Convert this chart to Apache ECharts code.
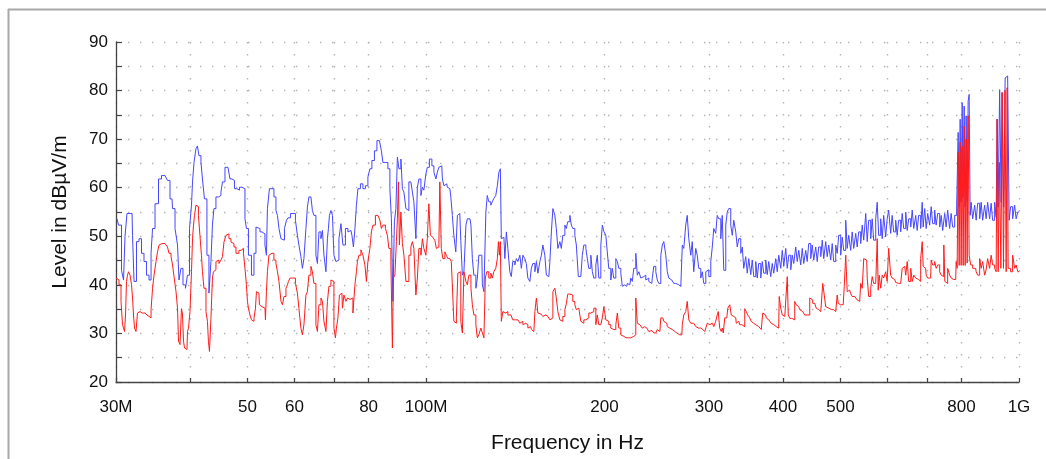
<!DOCTYPE html>
<html><head><meta charset="utf-8">
<script src="https://cdn.jsdelivr.net/npm/echarts@6/dist/echarts.min.js"></script>
<style>html,body{margin:0;padding:0;background:#fff}#c{width:1046px;height:459px}</style>
</head><body><div id="c"></div>
<script>
// x ticks (MHz) and their labels
const tickFreqs = [30,40,50,60,70,80,100,200,300,400,500,600,700,800,1000];
const labelFreqs = [30,50,60,80,100,200,300,400,500,800,1000];
const labelTexts = ['30M','50','60','80','100M','200','300','400','500','800','1G'];
const yMin = 20, yMax = 90, yStep = 5;

// [frequency in MHz, level in dBuV/m]
const blueTrace = [
[30.12,53.6],[30.47,52.3],[30.83,43],[30.95,41],[31.19,50],[31.43,54.7],[31.93,54.7],[32.05,50.2],[32.30,40.7],[32.67,48.9],
[32.93,49.5],[33.32,46.5],[33.57,44.8],[33.97,42],[34.24,41],[34.51,46.5],[34.64,51.6],[35.18,56.7],[35.59,61.8],[36.01,62.5],
[36.57,62.5],[36.71,61.5],[37.29,57.7],[37.44,55.7],[38.02,51.6],[38.17,48.2],[38.46,41],[38.76,43.4],[39.07,40],[39.52,39.3],
[39.68,42],[40.14,51.6],[40.30,56.4],[40.46,61.2],[40.77,65.2],[41.08,68],[41.24,68.6],[41.56,66.6],[41.89,65.2],[42.05,61.8],
[42.54,57.7],[42.87,46.1],[43.21,38.3],[43.54,44.8],[43.71,52.3],[44.05,55.7],[44.40,58.1],[44.92,58.4],[45.27,59.1],[45.45,61.2],
[46.16,64.2],[46.52,63.8],[46.88,61.8],[47.25,61.5],[47.80,59.8],[48.17,59.5],[48.74,60.1],[49.12,60.5],[49.31,59.8],[49.69,53.6],
[49.88,51.6],[50.47,46.1],[51.06,42],[51.46,46.5],[51.86,51.9],[52.06,51.6],[52.88,50.9],[53.29,50.5],[53.70,48.2],[53.91,46.1],
[54.12,55.7],[54.75,59.8],[55.18,59.8],[55.61,58.1],[56.05,55.3],[56.27,54.3],[56.71,51.6],[57.15,49.5],[57.37,49.2],[58.04,51.6],
[58.27,53.3],[58.72,53.8],[59.41,54.7],[59.87,54.7],[60.57,53.3],[60.80,50.2],[61.28,48.2],[61.75,45.8],[62.00,43.4],[62.48,45.4],
[62.96,51.6],[63.21,56],[63.70,58.1],[64.20,57.8],[64.45,55.3],[64.95,54.3],[65.46,46.1],[65.72,44.4],[66.23,50.9],[66.75,49.5],
[67.01,51.2],[67.53,46.1],[68.05,42.7],[68.32,49.5],[68.58,51.6],[68.85,54.3],[69.39,55.3],[69.66,54.3],[70.20,46.1],[70.74,44.8],
[71.02,45.1],[71.58,49.5],[72.13,52.6],[72.70,48.2],[73.55,51.6],[74.12,50.9],[74.70,51.2],[75.28,50.2],[75.58,47.8],[76.16,51.6],
[76.46,56.4],[77.05,59.8],[77.96,60.8],[78.57,59.8],[79.48,60.4],[80.10,62.2],[80.72,63.9],[81.36,65.6],[82.31,67.6],[82.95,69.7],
[83.92,70],[84.25,67.6],[84.91,65.2],[85.89,65.2],[86.56,63.9],[87.24,59.8],[87.58,53.6],[88.26,36.6],[88.61,53],[89.30,55.7],
[89.64,66.3],[90.35,63.9],[91.05,65.9],[91.41,59.8],[92.12,59.1],[92.83,55.7],[93.19,55.3],[93.92,61.2],[94.65,61.5],[95.02,59.1],
[95.76,57.1],[96.50,49.5],[96.88,60.1],[97.64,61.8],[98.40,58.4],[98.78,60.1],[99.55,59.5],[100.3,62.8],[100.7,64.2],[101.9,65.9],
[102.7,64.5],[103.5,63.2],[104.3,61.8],[104.7,63.2],[105.5,64.2],[106.3,64.5],[106.8,61.8],[107.6,60.4],[108.4,60.8],[108.8,60.1],
[109.7,59.8],[110.5,58.1],[111.0,54.3],[111.8,50.2],[112.7,46.8],[113.2,54.3],[114.0,54.7],[114.9,49.1],[115.4,42],[116.3,42.7],
[117.2,52.3],[117.6,53.6],[118.6,53.6],[119.5,52.3],[119.9,45.4],[120.9,42],[121.8,39.3],[122.3,41.4],[123.2,46.1],[124.2,46.1],
[124.7,40],[125.7,38.6],[126.6,55],[127.1,58.4],[128.1,57.1],[129.1,56.4],[129.6,57.1],[130.6,57.8],[131.6,58.4],[132.2,60.4],
[133.2,63.2],[133.7,63.9],[134.2,49.5],[135.3,49.8],[136.3,45.4],[136.9,50.9],[137.9,47.5],[139.0,42.7],[139.5,41.7],[140.6,44.8],
[141.7,44.1],[142.3,45.4],[143.4,44.8],[144.5,46.1],[145.1,43.4],[146.2,46.1],[147.3,45.4],[147.9,44.4],[149.1,41.4],[150.2,40.7],
[150.8,43.4],[152.0,44.4],[153.2,42.7],[153.8,44.8],[155.0,42.4],[156.2,44.8],[156.8,46.1],[158.0,48.2],[159.2,46.1],[159.9,42],
[161.1,41.7],[162.4,44.8],[163.0,50.9],[164.3,55.7],[165.5,54.3],[166.2,51.6],[167.5,47.5],[168.8,48.9],[169.4,47.5],[170.8,50.2],
[172.1,52.3],[172.7,51.6],[174.1,53],[175.5,54.3],[176.1,52.3],[177.5,51.6],[178.9,50.2],[179.6,48.2],[181.7,41.7],[183.1,41.4],
[183.8,46.1],[185.3,48.2],[186.7,47.5],[187.4,45.4],[188.9,43.4],[190.4,46.1],[191.1,42.7],[192.6,41.4],[194.1,44.1],[194.8,46.1],
[196.4,41.4],[197.9,48.2],[198.7,52.3],[200.2,51],[201.8,50.2],[202.5,46.8],[204.1,43.4],[205.7,41],[206.5,43.4],[208.1,41.4],
[209.8,45.4],[210.6,44.8],[212.2,43.4],[213.9,42.4],[214.7,39.7],[216.4,40],[218.1,39.7],[218.9,40.3],[220.6,40],[222.3,41.4],
[223.2,40.7],[224.9,43.4],[226.7,46.5],[227.6,42],[229.4,42.7],[231.1,41.4],[232.0,41.7],[233.8,42],[235.7,41],[236.6,41.4],
[238.4,40.7],[240.3,40.3],[241.2,41.4],[243.1,43.8],[245.0,42.7],[245.9,41],[247.9,40.3],[249.8,46.1],[250.8,48.2],[252.7,48.9],
[254.7,46.1],[255.7,42.7],[257.7,41.4],[259.7,41],[260.7,40.7],[262.7,40.3],[264.8,40],[265.8,40],[267.9,39.7],[270.0,40],
[271.0,48.2],[273.1,47.5],[275.2,52.3],[276.3,54.3],[278.5,49.5],[280.6,46.1],[281.7,48.9],[283.9,42.7],[286.1,47.5],[287.2,46.1],
[289.5,43.4],[291.7,41.4],[292.9,42.7],[295.2,40.3],[297.5,42.7],[298.6,43.1],[301.0,41.7],[303.3,44.8],[304.5,47.8],[306.8,51.6],
[309.2,50.6],[310.4,54.3],[312.9,53.6],[315.3,49.5],[316.5,54.3],[319.0,43],[321.5,52.3],[322.7,55],[325.2,55.7],[327.8,52.3],
[329.1,50.2],[331.6,53.3],[334.2,50.9],[335.5,47.8],[338.1,49.5],[340.8,46.5],[342.1,47.8],[344.7,43.4],[347.4,45.8],[348.8,42.4],
[351.5,45.4],[354.2,42.1],[355.6,45.1],[358.4,41.7],[361.2,44.8],[362.6,41.4],[365.4,44.4],[368.3,41.4],[369.7,44.8],[372.6,42.4],
[375.5,45.1],[376.9,42.1],[379.9,44.8],[382.8,41.7],[384.3,44.4],[387.3,42.4],[390.3,45.4],[391.9,42.7],[394.9,46.1],[398.0,43.4],
[399.6,47.1],[402.7,43.8],[405.8,47.5],[407.4,43.4],[410.6,46.1],[413.8,43.1],[415.4,46.1],[418.6,44.4],[421.8,47.8],[423.5,44.8],
[426.8,47.1],[430.1,44.1],[431.8,47.5],[435.2,44.4],[438.5,47.1],[440.2,44.8],[443.7,48.5],[447.1,45.4],[448.9,48.2],[452.4,45.1],
[455.9,47.8],[457.7,44.8],[461.3,47.8],[464.9,45.8],[466.7,49.2],[470.3,45.4],[473.9,48.9],[475.8,45.8],[479.5,48.2],[483.2,45.1],
[485.1,48.5],[488.9,44.8],[492.7,48.2],[494.6,46.5],[498.5,50.2],[502.4,46.1],[504.3,49.8],[508.3,47.1],[512.2,53.3],[514.2,47.5],
[518.2,50.2],[522.2,47.1],[524.3,50.9],[528.4,47.5],[532.5,50.6],[534.5,47.8],[538.7,50.9],[542.9,48.5],[545.1,52.3],[549.3,49.2],
[553.6,54.7],[555.7,48.9],[560.1,53.3],[564.4,49.5],[566.6,53.6],[571.0,49.2],[575.5,53.6],[577.7,57],[582.2,50.2],[586.8,53.6],
[589.0,49.5],[593.6,54.3],[598.2,49.9],[600.5,53.6],[605.2,55.4],[609.9,50.6],[612.2,54.3],[617.1,50.9],[621.9,53.3],[624.3,50.2],
[629.2,53.3],[634.1,50.9],[636.6,54.7],[641.6,51.6],[646.6,55],[649.1,51.2],[654.2,53.6],[659.3,51.9],[661.9,55.4],[667.1,51.6],
[672.1,54.3],[674.7,51.2],[680.0,54.3],[685.3,51.6],[688.0,57],[690.7,51.9],[696.0,55.7],[698.7,51.6],[704.2,54.7],[709.6,52.3],
[712.4,56.1],[717.9,52.6],[723.6,55.4],[726.4,52.3],[732.1,54.7],[737.8,51.9],[740.7,54.3],[746.4,51.2],[752.2,54.7],[755.1,51.9],
[761.0,55.4],[766.9,51.6],[769.9,54.7],[775.9,51.9],[782.0,54.3],[788.1,56.4],[791.1,71.4],[794.2,56],[797.3,74.1],[800.4,57],
[803.5,77.5],[806.7,58],[809.8,76.8],[812.9,56],[816.1,74.8],[819.2,57],[822.4,77.8],[825.6,79.2],[828.8,54.3],[832.1,57],
[838.6,53.6],[845.1,56.4],[848.4,53.3],[855.0,56.8],[861.7,53.6],[865.0,57],[871.8,53.3],[878.5,56.4],[881.9,53.6],[888.8,57],
[895.7,53.6],[899.2,56.8],[906.2,53.3],[913.3,57],[916.9,53.9],[920.4,74.1],[924.0,56],[931.2,80.2],[934.8,57],[938.5,79.6],
[945.8,56],[949.5,82.6],[953.2,83],[960.6,83],[964.3,53.3],[971.8,56.1],[979.4,53.6],[987.0,56.4],[990.9,53.6],[1000,55]
];

const redTrace = [
[30.00,41.4],[30.23,41],[30.47,40],[30.71,36.6],[30.83,31.8],[30.95,31.1],[31.07,30.4],[31.19,33.8],[31.31,40.7],[31.43,42],
[31.56,42.7],[31.80,42],[31.93,40],[32.05,37.3],[32.17,33.8],[32.30,31.1],[32.55,30.4],[32.67,34.2],[32.93,34.5],[33.19,34.2],
[33.32,34.5],[33.57,34.2],[33.84,33.8],[33.97,33.5],[34.24,33.2],[34.51,34.9],[34.64,39.3],[34.91,42],[35.18,44.8],[35.32,46.8],
[35.59,48.2],[35.87,48.5],[36.29,48.5],[36.57,48.2],[36.71,47.8],[37.00,46.5],[37.29,45.8],[37.44,44.1],[37.73,41.7],[38.02,38.6],
[38.17,35.2],[38.32,28.4],[38.61,27.7],[38.76,35.1],[38.91,34],[39.07,28.4],[39.22,27],[39.52,26.7],[39.68,30.4],[39.83,31.1],
[40.14,34.5],[40.30,42.7],[40.46,49.5],[40.61,52.3],[40.77,54.3],[41.08,56.4],[41.24,56.1],[41.40,54.3],[41.72,50.2],[41.89,46.1],
[42.05,42.7],[42.38,39.3],[42.71,34.5],[42.87,32.5],[43.04,28.4],[43.21,26.3],[43.54,33.1],[43.71,41.4],[43.88,42.7],[44.05,43.1],
[44.40,44.8],[44.58,45.1],[44.92,44.4],[45.27,45.1],[45.45,45.8],[45.80,48.8],[46.16,50.2],[46.34,50.5],[46.70,49.5],[47.07,48.8],
[47.25,48.5],[47.62,47.8],[47.99,46.5],[48.17,46.5],[48.55,47.1],[48.93,47.1],[49.12,47.5],[49.31,46.5],[49.69,43.4],[49.88,40],
[50.08,36.6],[50.27,35.2],[50.67,33.8],[50.86,32.8],[51.06,32.5],[51.46,33.1],[51.66,35.2],[51.86,38.6],[52.26,38.3],[52.47,35.9],
[52.88,35.5],[53.08,35.2],[53.50,35.2],[53.70,32.8],[53.91,38.6],[54.12,42.7],[54.54,46.1],[54.75,46.5],[55.18,46.5],[55.61,45.1],
[56.05,44.4],[56.27,42.7],[56.71,40.7],[57.15,36.6],[57.37,35.9],[57.81,37.6],[58.27,39.3],[58.49,40],[58.72,40.7],[59.18,41.4],
[59.87,41.4],[60.57,40.3],[60.80,38.3],[61.28,35.1],[61.75,31.1],[62.00,29.7],[62.48,31.8],[62.96,37.9],[63.21,38.6],[63.70,42],
[64.20,43.8],[64.45,42.7],[64.95,40.3],[65.46,31.8],[65.72,30.4],[66.23,35.9],[66.75,37.3],[67.01,36.6],[67.53,32.5],[68.05,30.4],
[68.32,36.6],[68.85,39.7],[69.39,41],[69.66,40.7],[70.20,31.1],[70.47,29.1],[70.74,31.1],[71.30,33.2],[71.58,37.9],[72.13,38.3],
[72.42,35.2],[72.98,37.9],[73.55,36.6],[73.84,37.3],[74.41,37],[74.99,37.3],[75.58,34.2],[76.16,40],[76.46,42.7],[76.75,44.8],
[77.36,46.1],[77.96,47.2],[78.57,46.1],[79.17,44.1],[79.48,40.7],[80.10,44.8],[80.72,47.5],[81.04,50.9],[81.68,52.3],[82.63,54.3],
[83.27,54.7],[83.92,53.3],[84.25,51.6],[84.91,52.3],[85.89,51.6],[86.23,50.2],[86.90,47.5],[87.58,44.8],[87.92,27],[88.26,41.4],
[88.95,42],[89.30,48.9],[89.64,53.6],[90.00,61.2],[90.35,48.2],[91.05,55],[91.41,48.5],[92.12,46.1],[92.83,40.7],[93.19,40.7],
[93.92,46.1],[94.65,47.8],[95.02,48.9],[95.76,47.5],[96.50,37.9],[96.88,41.4],[97.64,47.5],[98.40,46.1],[98.78,49.5],[99.55,47.5],
[100.3,46.1],[100.7,49.5],[101.5,56.7],[101.9,50.2],[102.7,49.8],[103.1,49.5],[103.9,49.1],[104.3,47.5],[105.1,47.8],[105.9,61.2],
[106.3,47.5],[107.2,45.4],[108.0,46.8],[108.4,46.1],[109.3,45.4],[110.1,45.4],[110.5,44.8],[111.0,40],[111.8,32.5],[112.3,32.1],
[112.7,33.2],[113.6,42.4],[114.0,42.7],[114.9,32.5],[115.4,30.1],[116.3,42.7],[117.2,40.7],[117.6,40],[118.6,42],[119.5,39.3],
[119.9,35.9],[120.9,33.8],[121.8,31.8],[122.3,29.1],[123.2,29.7],[124.2,31.1],[124.7,30.1],[125.7,29.1],[126.1,41.4],[127.1,42.7],
[128.1,41.4],[129.1,42.4],[129.6,41.4],[130.6,42.7],[131.6,43.4],[132.2,45.4],[132.7,48.9],[133.2,46.1],[133.7,48.9],[134.2,32.5],
[135.3,34.5],[136.3,34.2],[136.9,34.5],[137.9,33.8],[139.0,33.8],[139.5,33.5],[140.6,32.8],[141.7,33.1],[142.3,32.8],[143.4,32.5],
[144.5,32.1],[145.1,32.5],[146.2,31.8],[147.3,32.1],[147.9,31.8],[149.1,31.1],[150.2,31.4],[150.8,30.8],[152.0,30.4],[153.2,34.5],
[153.8,37.3],[155.0,34.2],[156.2,34],[156.8,33.8],[158.0,33.5],[159.2,33.8],[159.9,33.5],[161.1,33.5],[162.4,32.8],[163.0,33.2],
[164.3,38.6],[165.5,39.3],[166.2,37.3],[167.5,34.5],[168.8,32.8],[169.4,32.5],[170.8,33.5],[172.1,34.9],[172.7,36.1],[174.1,38.1],
[175.5,38.3],[176.1,37.9],[177.5,36.6],[178.9,35.9],[179.6,34.9],[181.0,35.2],[181.7,34.5],[183.1,32.5],[183.8,32.1],[185.3,32.8],
[186.7,32.5],[187.4,33.2],[188.9,34.2],[190.4,33.8],[191.1,34.5],[192.6,35.2],[194.1,31.8],[194.8,33.8],[196.4,31.8],[197.9,31.8],
[198.7,33.2],[200.2,35.5],[201.8,32.8],[202.5,32.5],[204.1,31.8],[205.7,31.1],[206.5,30.8],[208.1,30.8],[209.8,31.8],[210.6,34.2],
[212.2,31.1],[213.9,29.7],[214.7,29.4],[216.4,29.1],[218.1,29.1],[220.6,29.1],[222.3,29.2],[223.2,29.4],[224.9,29.7],[226.7,37.3],
[227.6,32.1],[229.4,31.8],[231.1,31.4],[232.0,31.1],[233.8,31.4],[235.7,31.1],[236.6,30.8],[238.4,30.4],[240.3,30.6],[241.2,30.4],
[243.1,30.1],[245.0,30.4],[245.9,30.8],[247.9,30.4],[249.8,33.2],[250.8,33.2],[252.7,32.5],[254.7,32.1],[255.7,31.4],[257.7,31.1],
[259.7,31.1],[260.7,30.8],[262.7,30.4],[264.8,30.1],[265.8,29.7],[267.9,29.7],[270.0,29.7],[271.0,31.8],[273.1,33.8],[275.2,34.5],
[276.3,36.6],[278.5,32.8],[280.6,32.1],[281.7,32.1],[283.9,31.8],[286.1,31.4],[287.2,31.1],[289.5,31.1],[291.7,30.8],[292.9,30.8],
[295.2,30.4],[297.5,30.4],[298.6,32.1],[301.0,31.8],[303.3,31.8],[304.5,32.1],[306.8,31.4],[309.2,32.5],[310.4,33.8],[311.6,34.5],
[314.0,31.1],[315.3,30.4],[316.5,31.1],[317.8,30.1],[320.2,33.2],[321.5,33.2],[324.0,35.2],[326.5,35.9],[327.8,33.8],[330.3,33.5],
[332.9,33.2],[334.2,32.1],[336.8,32.5],[339.4,31.8],[340.8,31.8],[343.4,31.4],[346.1,35.1],[347.4,34.5],[350.1,33.8],[352.8,33.2],
[354.2,32.5],[356.9,32.1],[359.8,31.8],[361.2,31.4],[364.0,31.4],[366.8,31.1],[368.3,30.8],[371.1,34.2],[374.0,33.8],[375.5,33.2],
[378.4,32.8],[381.3,32.5],[382.8,32.1],[385.8,31.8],[388.8,31.8],[390.3,31.4],[393.3,31.1],[394.9,37.6],[398.0,35.2],[399.6,33.8],
[402.7,33.5],[405.8,33.1],[407.4,41.7],[409.0,33.8],[412.2,33.1],[413.8,33.1],[417.0,32.8],[420.2,36.6],[421.8,35.9],[425.1,35.5],
[428.4,34.9],[430.1,34.5],[433.5,34.2],[436.8,33.8],[438.5,33.8],[442.0,33.8],[445.4,37.3],[447.1,36.9],[450.6,36.2],[454.1,35.9],
[455.9,35.2],[459.5,34.9],[463.1,34.5],[464.9,34.2],[468.5,40.3],[470.3,37.9],[473.9,35.5],[475.8,35.2],[479.5,35.2],[483.2,34.9],
[485.1,34.9],[488.9,34.5],[492.7,34.2],[494.6,37.9],[496.6,36.2],[500.4,35.9],[504.3,35.5],[506.3,35.9],[508.3,39.7],[512.2,46.1],
[514.2,38.6],[518.2,38.9],[522.2,38.2],[524.3,37.6],[528.4,37.6],[532.5,37.3],[534.5,36.9],[538.7,36.6],[542.9,40.3],[545.1,39.3],
[549.3,45.4],[553.6,45.1],[555.7,41.4],[560.1,37.6],[564.4,39.3],[566.6,41.7],[571.0,40.3],[575.5,40.7],[577.7,49.5],[579.9,38.9],
[582.2,42],[586.8,39.3],[589.0,42],[593.6,41.4],[598.2,42.7],[600.5,40.7],[605.2,47.5],[609.9,42],[612.2,41.4],[617.1,41.1],
[621.9,40.5],[624.3,40.3],[629.2,40.3],[634.1,39.9],[636.6,43.4],[641.6,43.8],[646.6,42],[649.1,44.8],[654.2,40.7],[659.3,43.4],
[661.9,40.7],[667.1,42],[672.1,41.4],[674.7,41.1],[680.0,40.7],[685.3,45.4],[688.0,48.9],[690.7,43.8],[696.0,43.4],[698.7,42],
[704.2,41.4],[709.6,41.4],[712.4,45.1],[717.9,44.1],[723.6,44.8],[726.4,43.4],[732.1,44.1],[737.8,42.7],[740.7,42],[746.4,41.7],
[747.3,48.2],[752.2,40.7],[755.1,40.3],[761.0,43.4],[766.9,42],[769.9,41.4],[775.9,41.1],[782.0,41.1],[785.0,44.8],[788.1,43.4],
[791.1,67.3],[794.2,44],[797.3,69.4],[800.4,44],[803.5,68.5],[806.7,44],[809.8,72.7],[812.9,44],[816.1,70],[819.2,44.5],
[822.4,74.8],[825.6,46.1],[832.1,44.1],[838.6,43.4],[845.1,43.4],[848.4,42.7],[855.0,42],[861.7,45.4],[865.0,43.4],[871.8,44.8],
[878.5,42],[881.9,43.1],[888.8,45.4],[895.7,43.4],[899.2,46.1],[906.2,44.1],[913.3,43.4],[916.9,42.7],[920.4,74.1],[924.0,42.7],
[929.4,65.2],[934.8,43.4],[938.5,79.6],[944.7,43.4],[949.5,80],[953.2,42.7],[956.9,80.6],[960.6,43.4],[964.3,43.4],[971.8,42.7],
[979.4,46.1],[987.0,43.4],[990.9,44.1],[1000,42.7]
];

const lg = v => Math.log10(v);
const toXY = arr => arr.map(p => [lg(p[0]), p[1]]);
const labelMap = {};
labelFreqs.forEach((f, i) => { labelMap[f] = labelTexts[i]; });

const font = 'Liberation Sans, Arial, sans-serif';
const dotted = { color: '#b2b2b2', width: 1.4, type: [1.4, 10.6] };

const chart = echarts.init(document.getElementById('c'), null, { renderer: 'canvas' });
chart.setOption({
  animation: false,
  backgroundColor: '#ffffff',
  grid: { left: 116, right: 27, top: 42, bottom: 75, containLabel: false },
  xAxis: {
    type: 'value',
    min: lg(30), max: lg(1000),
    name: 'Frequency in Hz', nameLocation: 'middle', nameGap: 51,
    nameTextStyle: { fontFamily: font, fontSize: 21, color: '#111' },
    axisLine: { show: true, lineStyle: { color: '#444', width: 1.3 } },
    axisTick: { show: true, inside: true, length: 4, lineStyle: { color: '#444', width: 1.2 }, customValues: tickFreqs.map(lg) },
    axisLabel: {
      customValues: labelFreqs.map(lg),
      fontFamily: font, fontSize: 17, color: '#111', margin: 17,
      formatter: v => labelMap[Math.round(Math.pow(10, v))] || ''
    },
    splitLine: { show: true, lineStyle: dotted }
  },
  yAxis: {
    type: 'value', min: yMin, max: yMax, interval: yStep,
    name: 'Level in dBµV/m', nameLocation: 'middle', nameGap: 45,
    nameTextStyle: { fontFamily: font, fontSize: 21, color: '#111' },
    axisLine: { show: true, lineStyle: { color: '#444', width: 1.3 } },
    axisTick: { show: true, inside: true, length: 6, lineStyle: { color: '#444', width: 1.2 } },
    axisLabel: {
      fontFamily: font, fontSize: 17, color: '#111', margin: 8,
      formatter: v => (v % 10 === 0 ? String(v) : '')
    },
    splitLine: { show: true, lineStyle: dotted }
  },
  graphic: [
    { type: 'line', shape: { x1: 8, y1: 9.5, x2: 1046, y2: 9.5 }, style: { stroke: '#a8a8a8', lineWidth: 2 }, silent: true },
    { type: 'line', shape: { x1: 8.5, y1: 9, x2: 8.5, y2: 459 }, style: { stroke: '#a8a8a8', lineWidth: 2 }, silent: true }
  ],
  series: [
    {
      name: 'Peak', type: 'line', data: toXY(blueTrace), step: 'middle',
      showSymbol: false, symbol: 'none', clip: true,
      lineStyle: { color: '#4646ff', width: 1 }, z: 2
    },
    {
      name: 'Average', type: 'line', data: toXY(redTrace), step: 'middle',
      showSymbol: false, symbol: 'none', clip: true,
      lineStyle: { color: '#ff1a1a', width: 1 }, z: 3
    }
  ]
});
</script>
</body></html>
